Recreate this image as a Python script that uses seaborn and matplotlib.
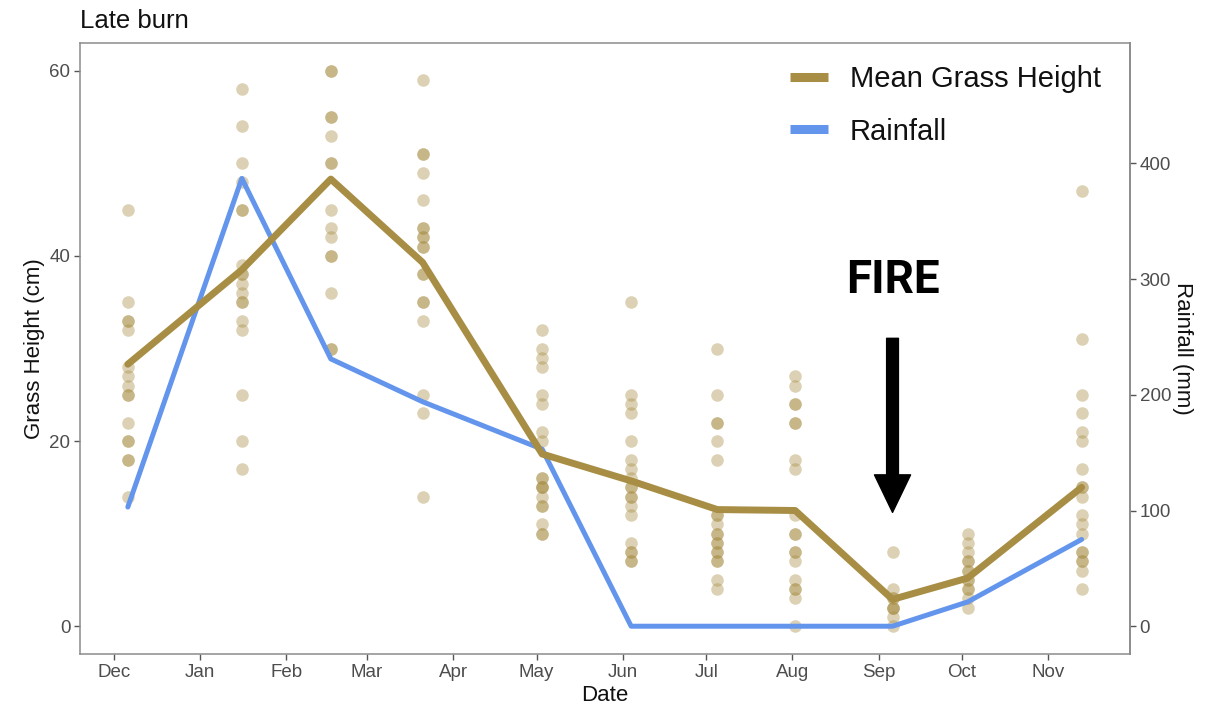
import pandas as pd
import matplotlib.pyplot as plt
import matplotlib.dates as mdates
from matplotlib.lines import Line2D
import seaborn as sns

# sampling dates (one visit per month)
sample_dates = ['2019-12-06', '2020-01-16', '2020-02-17', '2020-03-21', '2020-05-03',
                '2020-06-04', '2020-07-05', '2020-08-02', '2020-09-06', '2020-10-03',
                '2020-11-13']

# grass height measurements (cm) at each visit
h_dec = [45, 35, 33, 33, 32, 28, 27, 26, 25, 25, 22, 20, 20, 18, 18, 14]
h_jan = [58, 54, 50, 48, 45, 45, 39, 38, 38, 37, 36, 35, 35, 33, 32, 25, 20, 17]
h_feb = [60, 60, 55, 55, 53, 50, 50, 45, 43, 42, 40, 40, 36, 30, 30]
h_mar = [59, 51, 51, 49, 46, 43, 43, 42, 42, 41, 41, 38, 38, 35, 35, 33, 25, 23, 14]
h_may = [32, 30, 29, 28, 25, 24, 21, 20, 16, 16, 15, 15, 15, 14, 13, 13, 11, 10, 10]
h_jun = [35, 25, 24, 23, 20, 18, 17, 16, 15, 15, 14, 14, 13, 12, 9, 8, 8, 7, 7]
h_jul = [30, 25, 22, 22, 20, 18, 12, 12, 11, 10, 10, 9, 9, 8, 8, 7, 7, 5, 4]
h_aug = [27, 26, 24, 24, 22, 22, 18, 17, 12, 10, 10, 8, 8, 7, 5, 4, 4, 3, 0]
h_sep = [8, 4, 3, 3, 2, 2, 2, 1, 0]
h_oct = [10, 9, 8, 7, 7, 6, 6, 5, 5, 4, 4, 3, 2]
h_nov = [47, 31, 25, 23, 21, 20, 17, 15, 15, 14, 12, 11, 10, 8, 8, 7, 7, 6, 4]

mean_height = [28.3, 38.5, 48.3, 39.3, 18.6, 15.7, 12.6, 12.5, 2.9, 5.2, 15.0]
rainfall_mm = [103, 387, 231, 194, 153, 0, 0, 0, 0, 21, 75]

RAIN_SCALE = 8  # mm per cm on the secondary axis

gold = '#A88E45'
blue = '#6495ED'

all_heights = [h_dec, h_jan, h_feb, h_mar, h_may, h_jun, h_jul, h_aug, h_sep, h_oct, h_nov]
rows = []
for d, vals in zip(sample_dates, all_heights):
    for v in vals:
        rows.append((pd.Timestamp(d), v))
pts = pd.DataFrame(rows, columns=['date', 'height'])

dates = pd.to_datetime(sample_dates)
lines = pd.DataFrame({'date': dates, 'mean': mean_height,
                      'rain_scaled': [r / RAIN_SCALE for r in rainfall_mm]})

sns.set_theme(style='white')
plt.rcParams['font.family'] = ['Liberation Sans', 'DejaVu Sans']
plt.rcParams['text.color'] = '#111111'
plt.rcParams['axes.labelcolor'] = '#111111'

fig = plt.figure(figsize=(12.17, 7.07), dpi=100)
ax = fig.add_axes([80 / 1217, 1 - 654 / 707, 1050 / 1217, 611 / 707])

sns.scatterplot(data=pts, x='date', y='height', color=gold, alpha=0.4, s=82,
                linewidth=0, ax=ax, zorder=2)
sns.lineplot(data=lines, x='date', y='rain_scaled', color=blue, lw=3.6, ax=ax, zorder=3)
sns.lineplot(data=lines, x='date', y='mean', color=gold, lw=5, ax=ax, zorder=4)

start = pd.Timestamp('2019-12-01')
ax.set_xlim(start + pd.Timedelta(days=-12.2), start + pd.Timedelta(days=365.4))
ax.set_ylim(-3, 63)
ax.set_yticks([0, 20, 40, 60])
ax.xaxis.set_major_locator(mdates.MonthLocator())
ax.xaxis.set_major_formatter(mdates.DateFormatter('%b'))

sec = ax.secondary_yaxis('right', functions=(lambda y: y * RAIN_SCALE,
                                             lambda r: r / RAIN_SCALE))
sec.set_yticks([0, 100, 200, 300, 400])
sec.set_ylabel('Rainfall (mm)', fontsize=16, rotation=270, labelpad=16)

for a in (ax, sec):
    a.tick_params(length=4, width=1, color='#555555', labelcolor='#4D4D4D',
                  labelsize=13.5, pad=3)
for s in ax.spines.values():
    s.set_color('#8C8C8C')
    s.set_linewidth(1.1)
sec.spines['right'].set_color('#8C8C8C')
ax.tick_params(axis='both', bottom=True, left=True)

ax.set_xlabel('Date', fontsize=16, labelpad=3)
ax.set_ylabel('Grass Height (cm)', fontsize=16, labelpad=3)
ax.set_title('Late burn', loc='left', fontsize=18.5, pad=11)

handles = [Line2D([], [], color=gold, lw=6.5, solid_capstyle='butt'),
           Line2D([], [], color=blue, lw=6.5, solid_capstyle='butt')]
ax.legend(handles, ['Mean Grass Height', 'Rainfall'], loc='upper right',
          bbox_to_anchor=(1.0, 1.012), frameon=False, fontsize=21,
          handlelength=1.3, handletextpad=0.75, labelspacing=0.85, borderaxespad=0.6)

# fire annotation
fire_date = pd.Timestamp('2020-09-06')
ax.text(fire_date, 37.4, 'FIRE', ha='center', va='center', fontsize=33,
        fontweight='bold', color='black', family=['Roboto', 'DejaVu Sans'])
ax.annotate('', xy=(fire_date, 12.3), xytext=(fire_date, 31.1),
            arrowprops=dict(arrowstyle='simple,head_width=2.6,head_length=2.7,tail_width=0.85',
                            mutation_scale=10, color='black', shrinkA=0, shrinkB=0))

fig.savefig('out.png', dpi=100)
